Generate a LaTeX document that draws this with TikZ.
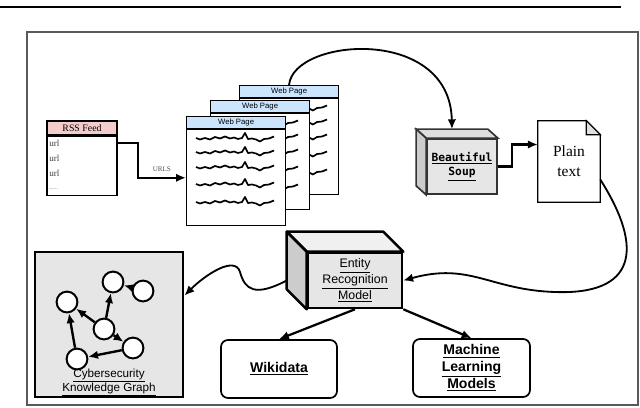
\documentclass[tikz,border=0pt]{standalone}
\usepackage{fontspec}
\setmainfont{Liberation Serif}
\setsansfont{Liberation Sans}
\setmonofont{DejaVu Sans Mono}
\usetikzlibrary{calc,positioning,arrows,arrows.meta,shapes}
\definecolor{feedpink}{HTML}{F4CCCC}
\definecolor{pageblue}{HTML}{CCE5FF}
\definecolor{boxgray}{HTML}{E6E6E6}
\definecolor{sidegray}{HTML}{CCCCCC}

\begin{document}
\begin{tikzpicture}[x=0.025cm, y=-0.025cm, >={Latex[length=7pt,width=6pt]},
		flow/.style={->, line width=1.6pt},
		curvy/.style={->, line width=1.3pt},
		pagehead/.style={draw, line width=0.8pt, fill=pageblue, minimum width=2.475cm, minimum height=0.3cm, inner sep=0pt, font=\sffamily\fontsize{5.5}{6}\selectfont},
		pagebody/.style={draw, line width=0.9pt, fill=white, minimum width=2.475cm, minimum height=2.4cm, inner sep=0pt},
		squig/.style={line width=1.2pt, line join=round},
		cubeface/.style={draw, fill=boxgray, inner sep=0pt, align=center},
		rbox/.style={draw, line width=1.2pt, rounded corners=5pt, minimum width=2.9cm, minimum height=1.45cm, align=center, font=\sffamily\bfseries\fontsize{10}{12}\selectfont},
		kgnode/.style={circle, draw, line width=1.4pt, fill=white, minimum size=0.52cm, inner sep=0pt},
		kgedge/.style={->, line width=1.7pt}]
		\useasboundingbox (0,0) rectangle (640,408);
		\draw[line width=1.5pt] (0,7) -- (621,7);
		\draw[black!65, line width=1pt] (27,32) rectangle (638,405);
		
		% RSS feed table
		\node[draw, line width=0.9pt, fill=feedpink, minimum width=1.75cm, minimum height=0.35cm, inner sep=0pt, font=\fontsize{7}{8}\selectfont] (rsshead) at (82,128) {RSS Feed};
		\node[draw, line width=0.9pt, fill=white, minimum width=1.75cm, minimum height=1.475cm, inner sep=0pt, anchor=north] (rss) at (rsshead.south) {};
		\foreach \n/\uy in {1/143, 2/158, 3/173}
			\node[anchor=west, inner sep=0pt, text=black!75, font=\fontsize{6.5}{7}\selectfont] (u\n) at (49,\uy) {url};
		\node[anchor=west, inner sep=0pt, text=black!60, font=\fontsize{4}{5}\selectfont] (u4) at (49,189) {......};
		
		% stacked web pages
		\foreach \p/\px/\py in {3/239/85, 2/210/100, 1/186/116} {
			\node[pagehead, anchor=north west] (head\p) at (\px,\py) {Web Page};
			\node[pagebody, anchor=north] (page\p) at (head\p.south) {};
			\foreach \dy in {22,36,51,68,86}
				\draw[squig, shift={(\px+10,\py+\dy)}] plot coordinates {(0,0) (4,1.5) (9,0) (14,1.5) (19,-1) (24,0.5) (29,-1.5) (34,0.5) (38,-0.5) (42,1) (46,0) (49,-5) (52,1) (56,0.5) (60,1.5) (64,3.5) (68,1) (73,0.5) (78,-1.5)};
		}
		\draw[flow] (rss.east |- u1) -- ++(20,0) |- (page1.west) node[pos=0.75, above, text=black!70, font=\fontsize{5}{6}\selectfont] {URLS};
		
		% Beautiful Soup cube
		\node[cubeface, draw=black!80, line width=1.2pt, minimum width=1.75cm, minimum height=1.375cm, font=\ttfamily\bfseries\fontsize{8}{10}\selectfont] (soup) at (462,166.5) {\underline{Beautiful}\\\underline{Soup}};
		\draw[draw=black!80, line width=1.2pt, fill=boxgray!70!sidegray] (soup.north west) -- ++(-10,-9) -- ($(soup.north east)+(-10,-9)$) -- (soup.north east) -- cycle;
		\draw[draw=black!80, line width=1.2pt, fill=sidegray] (soup.north west) -- ++(-10,-9) -- ($(soup.south west)+(-10,-9)$) -- (soup.south west) -- cycle;
		\draw[curvy] (head3.north) .. controls (293,38) and (450,25) .. ($(soup.north)+(-10,-9)$);
		
		% plain text document
		\node[minimum width=1.55cm, minimum height=2.025cm, inner sep=0pt, align=center, font=\fontsize{11}{14}\selectfont] (plain) at (569,161.5) {Plain\\text};
		\draw[line width=1pt] (plain.north west) -- ($(plain.north east)+(-14,0)$) -- ($(plain.north east)+(0,14)$) -- (plain.south east) -- (plain.south west) -- cycle;
		\draw[line width=0.8pt, fill=black!12] ($(plain.north east)+(-14,0)$) |- ($(plain.north east)+(0,14)$) -- cycle;
		\draw[flow] (soup.east) -- ++(14,0) |- ($(plain.west)+(0,-17)$);
		
		% entity recognition cube
		\node[cubeface, draw=black, line width=1.8pt, minimum width=2.35cm, minimum height=1.375cm, font=\sffamily\fontsize{8.8}{9.6}\selectfont] (er) at (355,280.5) {\underline{Entity}\\\underline{Recognition}\\\underline{Model}};
		\draw[line width=1.8pt, line join=round, fill=boxgray!60!white] (er.north west) -- ++(-20,-20) -- ($(er.north east)+(-20,-20)$) -- (er.north east) -- cycle;
		\draw[line width=1.8pt, line join=round, fill=sidegray] (er.north west) -- ++(-20,-20) -- ($(er.south west)+(-20,-20)$) -- (er.south west) -- cycle;
		\draw[curvy] ($(plain.east)+(0,18)$) .. controls (645,250) and (635,295) .. (555,292) .. controls (490,290) and (470,262) .. (er.east);
		
		% knowledge graph
		\node[draw, line width=2pt, fill=boxgray, minimum width=3.7cm, minimum height=3.625cm] (kg) at (109,324.5) {};
		\foreach \n/\gx/\gy in {1/67/302, 2/113/282, 3/143/291, 4/104/329, 5/133/348, 6/77/359}
			\node[kgnode] (g\n) at (\gx,\gy) {};
		\foreach \a/\b in {3/2, 4/2, 4/1, 4/5, 5/6, 6/1}
			\draw[kgedge] (g\a) -- (g\b);
		\node[align=center, inner sep=0pt, font=\sffamily\fontsize{8.3}{10}\selectfont] (kglabel) at (109,382.5) {\underline{Cybersecurity}\\\underline{Knowledge Graph}};
		\draw[curvy] ($(er.west)+(-20,0)$) .. controls (255,297) and (245,290) .. (240,272) .. controls (235,255) and (205,275) .. ($(kg.north east)+(0,45)$);
		
		% outputs
		\node[rbox] (wiki) at (279,369) {\underline{Wikidata}};
		\node[rbox, minimum width=2.925cm] (ml) at (471.5,368) {\underline{Machine}\\\underline{Learning}\\\underline{Models}};
		\draw[flow] (er.south) -- (wiki.north);
		\draw[flow] (er.south east) -- (ml.north);
	\end{tikzpicture}
\end{document}
